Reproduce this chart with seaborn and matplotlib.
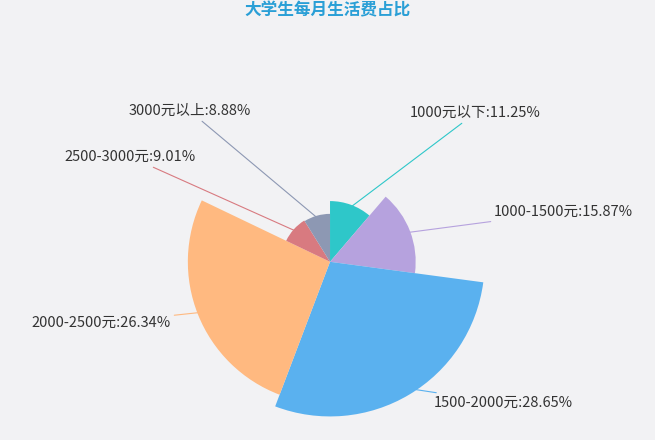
import numpy as np
import matplotlib
matplotlib.use("Agg")
import matplotlib.pyplot as plt
import seaborn as sns

sns.set_style("white")
plt.rcParams['font.family'] = ['Noto Sans CJK SC', 'DejaVu Sans']

categories = ["1000元以下", "1000-1500元", "1500-2000元", "2000-2500元", "2500-3000元", "3000元以上"]
values = [11.25, 15.87, 28.65, 26.34, 9.01, 8.88]
colors = ["#2ec7c9", "#b6a2de", "#5ab1ef", "#ffb980", "#d87a80", "#8d98b3"]
label_pos = [(413, 113, 'left'), (497, 212, 'left'), (437, 403, 'left'),
             (168, 323, 'right'), (193, 157, 'right'), (248, 111, 'right')]
line_end = [(410, 113), (494, 212), (434, 403), (171, 323), (196, 157), (251, 111)]

bg = "#f2f2f4"
fig = plt.figure(figsize=(6.55, 4.4), dpi=100, facecolor=bg)
ax = fig.add_axes([0.2565, 0.037, 0.4947, 0.736], projection='polar')
ax.set_facecolor('none')
ax.set_theta_zero_location('N')
ax.set_theta_direction(-1)

total = sum(values)
widths = np.array(values) / total * 2 * np.pi
starts = np.concatenate([[0], np.cumsum(widths)[:-1]])
ax.bar(starts, values, width=widths, align='edge', color=colors, edgecolor='none')
ax.set_ylim(0, 30)
ax.axis('off')

for i, (c, v) in enumerate(zip(categories, values)):
    mid = starts[i] + widths[i] / 2
    x, y, ha = label_pos[i]
    ex, ey = line_end[i]
    ax.annotate(f"{c}:{v:.2f}%", xy=(mid, v * 0.95), xycoords='data',
                xytext=(ex, 440 - ey), textcoords='figure pixels',
                ha=ha, va='center', fontsize=10.5, color='#333333',
                arrowprops=dict(arrowstyle='-', color=colors[i], lw=0.8, shrinkA=0, shrinkB=0))

fig.text(0.5, 0.998, "大学生每月生活费占比", ha='center', va='top', fontsize=12,
         color='#2a9fd6', fontweight='bold')
fig.savefig("out.png", dpi=100, facecolor=bg)
